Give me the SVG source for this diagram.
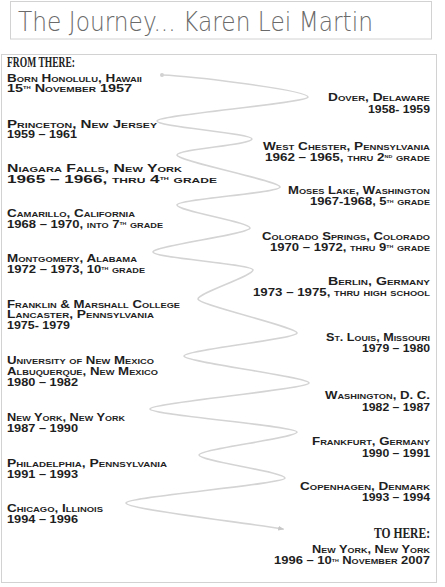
<svg xmlns="http://www.w3.org/2000/svg" width="445" height="587" viewBox="0 0 445 587">
  <style>
    .frame { fill: none; stroke: #d2d2d2; stroke-width: 1; }
    .title { font-family: "DejaVu Sans", "Liberation Sans", sans-serif; font-weight: 200; font-size: 27px; fill: #6a6a6a; }
    .head { font-family: "Liberation Serif", "DejaVu Serif", serif; font-weight: bold; font-size: 14px; fill: #222; }
    .t { font-family: "Liberation Sans", Arial, sans-serif; font-weight: bold; font-size: 10px; font-variant: small-caps; fill: #1e1e1e; }
    .sup { font-size: 5.5px; }
    .route { fill: none; stroke: #d4d4d4; stroke-width: 1.6; stroke-linecap: round; }
  </style>
  <defs>
    <marker id="arrow" viewBox="0 0 10 10" refX="8" refY="5" markerWidth="6" markerHeight="6" orient="auto" markerUnits="userSpaceOnUse">
      <path d="M0,1 L10,5 L0,9 z" fill="#c8c8c8"/>
    </marker>
  </defs>

  <rect width="445" height="587" fill="#ffffff"/>

  <!-- title banner -->
  <g id="title">
    <rect class="frame" x="10.5" y="1.5" width="421" height="37.5"/>
    <text class="title" x="18" y="31" textLength="355" lengthAdjust="spacingAndGlyphs">The Journey... Karen Lei Martin</text>
  </g>

  <!-- main panel -->
  <rect class="frame" x="1.5" y="54.5" width="435" height="528"/>

  <!-- winding route -->
  <g id="connectors">
    <circle cx="162" cy="75" r="2" fill="#d0d0d0"/>
    <path class="route" marker-end="url(#arrow)" d="M162,75 C190,76 308,90 308,97
      C308,103 157,115 157,121
      C157,127 252,133 252,139
      C252,145 177,149 177,155
      C177,161 280,181 280,187
      C280,193 177,199 177,205
      C177,211 250,222 250,228
      C250,234 153,246 153,252
      C153,258 253,264 253,270
      C253,276 198,293 198,299
      C198,305 297,327 297,333
      C297,339 184,350 184,356
      C184,362 309,377 309,383
      C309,389 150,403 150,409
      C150,415 297,426 297,432
      C297,438 199,449 199,455
      C199,461 285,472 285,478
      C285,484 126,497 126,503
      C126,509 240,522 283,529"/>
  </g>

  <!-- left column -->
  <g id="from-there">
    <text class="head" x="7" y="67" textLength="68" lengthAdjust="spacingAndGlyphs">FROM THERE:</text>
  </g>
  <g id="honolulu">
    <text class="t" x="7" y="81.5" textLength="135" lengthAdjust="spacingAndGlyphs">Born Honolulu, Hawaii</text>
    <text class="t" x="7" y="91.5" textLength="125" lengthAdjust="spacingAndGlyphs">15<tspan class="sup" dy="-2.5">th</tspan><tspan dy="2.5"> November 1957</tspan></text>
  </g>
  <g id="princeton">
    <text class="t" x="7" y="127.5" textLength="150" lengthAdjust="spacingAndGlyphs">Princeton, New Jersey</text>
    <text class="t" x="7" y="138" textLength="70" lengthAdjust="spacingAndGlyphs">1959 – 1961</text>
  </g>
  <g id="niagara-falls">
    <text class="t" x="7" y="172" textLength="175" lengthAdjust="spacingAndGlyphs">Niagara Falls, New York</text>
    <text class="t" x="7" y="182.5" textLength="210" lengthAdjust="spacingAndGlyphs">1965 – 1966, thru 4<tspan class="sup" dy="-2.5">th</tspan><tspan dy="2.5"> grade</tspan></text>
  </g>
  <g id="camarillo">
    <text class="t" x="7" y="217" textLength="128" lengthAdjust="spacingAndGlyphs">Camarillo, California</text>
    <text class="t" x="7" y="227.5" textLength="156" lengthAdjust="spacingAndGlyphs">1968 – 1970, into 7<tspan class="sup" dy="-2.5">th</tspan><tspan dy="2.5"> grade</tspan></text>
  </g>
  <g id="montgomery">
    <text class="t" x="7" y="262" textLength="130" lengthAdjust="spacingAndGlyphs">Montgomery, Alabama</text>
    <text class="t" x="7" y="272.5" textLength="138" lengthAdjust="spacingAndGlyphs">1972 – 1973, 10<tspan class="sup" dy="-2.5">th</tspan><tspan dy="2.5"> grade</tspan></text>
  </g>
  <g id="lancaster">
    <text class="t" x="7" y="307.5" textLength="173" lengthAdjust="spacingAndGlyphs">Franklin &amp; Marshall College</text>
    <text class="t" x="7" y="318" textLength="147" lengthAdjust="spacingAndGlyphs">Lancaster, Pennsylvania</text>
    <text class="t" x="7" y="328.5" textLength="63" lengthAdjust="spacingAndGlyphs">1975- 1979</text>
  </g>
  <g id="albuquerque">
    <text class="t" x="7" y="364" textLength="147" lengthAdjust="spacingAndGlyphs">University of New Mexico</text>
    <text class="t" x="7" y="375" textLength="151" lengthAdjust="spacingAndGlyphs">Albuquerque, New Mexico</text>
    <text class="t" x="7" y="386" textLength="71" lengthAdjust="spacingAndGlyphs">1980 – 1982</text>
  </g>
  <g id="new-york-1">
    <text class="t" x="7" y="421" textLength="118" lengthAdjust="spacingAndGlyphs">New York, New York</text>
    <text class="t" x="7" y="432" textLength="71" lengthAdjust="spacingAndGlyphs">1987 – 1990</text>
  </g>
  <g id="philadelphia">
    <text class="t" x="7" y="467" textLength="160" lengthAdjust="spacingAndGlyphs">Philadelphia, Pennsylvania</text>
    <text class="t" x="7" y="478" textLength="71" lengthAdjust="spacingAndGlyphs">1991 – 1993</text>
  </g>
  <g id="chicago">
    <text class="t" x="7" y="512" textLength="96" lengthAdjust="spacingAndGlyphs">Chicago, Illinois</text>
    <text class="t" x="7" y="523" textLength="71" lengthAdjust="spacingAndGlyphs">1994 – 1996</text>
  </g>

  <!-- right column -->
  <g id="dover">
    <text class="t" x="328" y="101" textLength="102" lengthAdjust="spacingAndGlyphs">Dover, Delaware</text>
    <text class="t" x="368" y="112.5" textLength="62" lengthAdjust="spacingAndGlyphs">1958- 1959</text>
  </g>
  <g id="west-chester">
    <text class="t" x="263" y="149.5" textLength="167" lengthAdjust="spacingAndGlyphs">West Chester, Pennsylvania</text>
    <text class="t" x="265" y="160.5" textLength="165" lengthAdjust="spacingAndGlyphs">1962 – 1965, thru 2<tspan class="sup" dy="-2.5">nd</tspan><tspan dy="2.5">  grade</tspan></text>
  </g>
  <g id="moses-lake">
    <text class="t" x="288" y="194" textLength="142" lengthAdjust="spacingAndGlyphs">Moses Lake, Washington</text>
    <text class="t" x="310" y="205" textLength="120" lengthAdjust="spacingAndGlyphs">1967-1968, 5<tspan class="sup" dy="-2.5">th</tspan><tspan dy="2.5"> grade</tspan></text>
  </g>
  <g id="colorado-springs">
    <text class="t" x="262" y="239.5" textLength="168" lengthAdjust="spacingAndGlyphs">Colorado Springs, Colorado</text>
    <text class="t" x="270" y="250.5" textLength="160" lengthAdjust="spacingAndGlyphs">1970 – 1972, thru 9<tspan class="sup" dy="-2.5">th</tspan><tspan dy="2.5"> grade</tspan></text>
  </g>
  <g id="berlin">
    <text class="t" x="328" y="285" textLength="102" lengthAdjust="spacingAndGlyphs">Berlin, Germany</text>
    <text class="t" x="253" y="296" textLength="177" lengthAdjust="spacingAndGlyphs">1973 – 1975, thru high school</text>
  </g>
  <g id="st-louis">
    <text class="t" x="326" y="341" textLength="104" lengthAdjust="spacingAndGlyphs">St. Louis, Missouri</text>
    <text class="t" x="362" y="352" textLength="68" lengthAdjust="spacingAndGlyphs">1979 – 1980</text>
  </g>
  <g id="washington-dc">
    <text class="t" x="325" y="399" textLength="105" lengthAdjust="spacingAndGlyphs">Washington,  D. C.</text>
    <text class="t" x="362" y="410.5" textLength="68" lengthAdjust="spacingAndGlyphs">1982 – 1987</text>
  </g>
  <g id="frankfurt">
    <text class="t" x="312" y="445" textLength="118" lengthAdjust="spacingAndGlyphs">Frankfurt, Germany</text>
    <text class="t" x="362" y="456.5" textLength="68" lengthAdjust="spacingAndGlyphs">1990 – 1991</text>
  </g>
  <g id="copenhagen">
    <text class="t" x="300" y="489.5" textLength="130" lengthAdjust="spacingAndGlyphs">Copenhagen, Denmark</text>
    <text class="t" x="362" y="500.5" textLength="68" lengthAdjust="spacingAndGlyphs">1993 – 1994</text>
  </g>
  <g id="to-here">
    <text class="head" x="374" y="538" textLength="56" lengthAdjust="spacingAndGlyphs">TO HERE:</text>
  </g>
  <g id="new-york-2">
    <text class="t" x="312" y="552.5" textLength="118" lengthAdjust="spacingAndGlyphs">New York, New York</text>
    <text class="t" x="274" y="564" textLength="156" lengthAdjust="spacingAndGlyphs">1996 – 10<tspan class="sup" dy="-2.5">th</tspan><tspan dy="2.5"> November 2007</tspan></text>
  </g>
</svg>
